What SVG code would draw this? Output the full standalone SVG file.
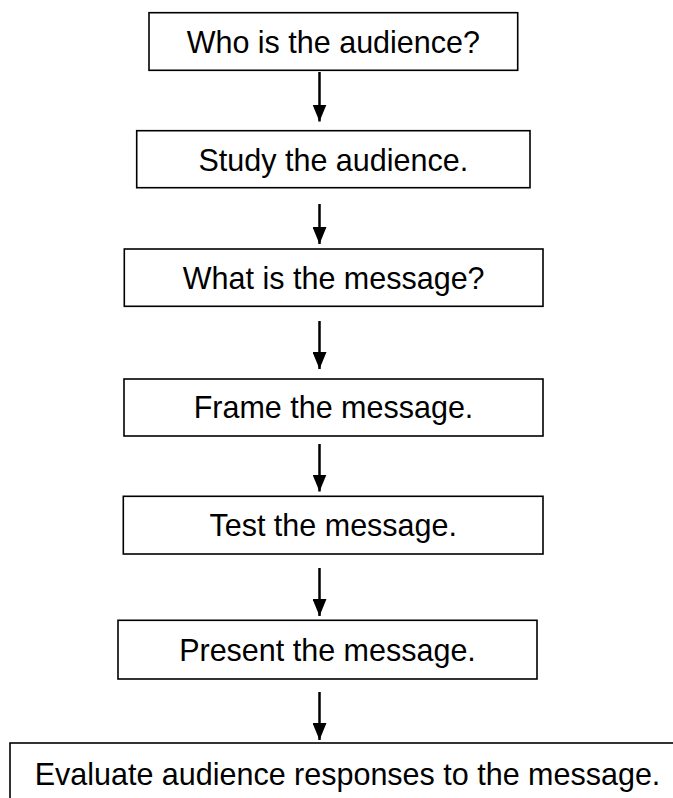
<svg xmlns="http://www.w3.org/2000/svg" width="673" height="798" viewBox="0 0 673 798">
<style>
.box{fill:#fff;stroke:#000;stroke-width:1.6}
.lbl{font-family:"Liberation Sans",Arial,sans-serif;font-size:30.5px;fill:#000;text-anchor:middle}
.conn line{stroke:#000;stroke-width:2.5}
</style>
<defs>
<marker id="ah" markerUnits="userSpaceOnUse" markerWidth="18" markerHeight="14" viewBox="0 0 18 14" refX="17" refY="7" orient="auto">
<path d="M0,0 L17,7 L0,14 Z" fill="#000"/>
</marker>
</defs>
<rect width="673" height="798" fill="#fff"/>
<g id="n1"><rect class="box" x="149" y="12.7" width="368.7" height="57.6"/><text class="lbl" x="333.3" y="53">Who is the audience?</text></g>
<g id="n2"><rect class="box" x="136.7" y="130.7" width="393.3" height="57"/><text class="lbl" x="333.3" y="171">Study the audience.</text></g>
<g id="n3"><rect class="box" x="124.3" y="249" width="418.7" height="57.3"/><text class="lbl" x="333.7" y="289">What is the message?</text></g>
<g id="n4"><rect class="box" x="124" y="379" width="419" height="57"/><text class="lbl" x="333.5" y="418">Frame the message.</text></g>
<g id="n5"><rect class="box" x="123.3" y="496.3" width="419.7" height="57.7"/><text class="lbl" x="333.2" y="536">Test the message.</text></g>
<g id="n6"><rect class="box" x="118" y="620.3" width="419" height="58.7"/><text class="lbl" x="327.5" y="661">Present the message.</text></g>
<g id="n7"><rect class="box" x="10" y="743" width="675" height="70"/><text class="lbl" x="347.5" y="785">Evaluate audience responses to the message.</text></g>
<g class="conn" id="connectors">
<line x1="319.5" y1="72" x2="319.5" y2="121.5" marker-end="url(#ah)"/>
<line x1="319.5" y1="204" x2="319.5" y2="244" marker-end="url(#ah)"/>
<line x1="319.5" y1="321" x2="319.5" y2="369" marker-end="url(#ah)"/>
<line x1="319.5" y1="444" x2="319.5" y2="491.5" marker-end="url(#ah)"/>
<line x1="319.5" y1="568" x2="319.5" y2="616" marker-end="url(#ah)"/>
<line x1="319.5" y1="692" x2="319.5" y2="740" marker-end="url(#ah)"/>
</g>
</svg>
